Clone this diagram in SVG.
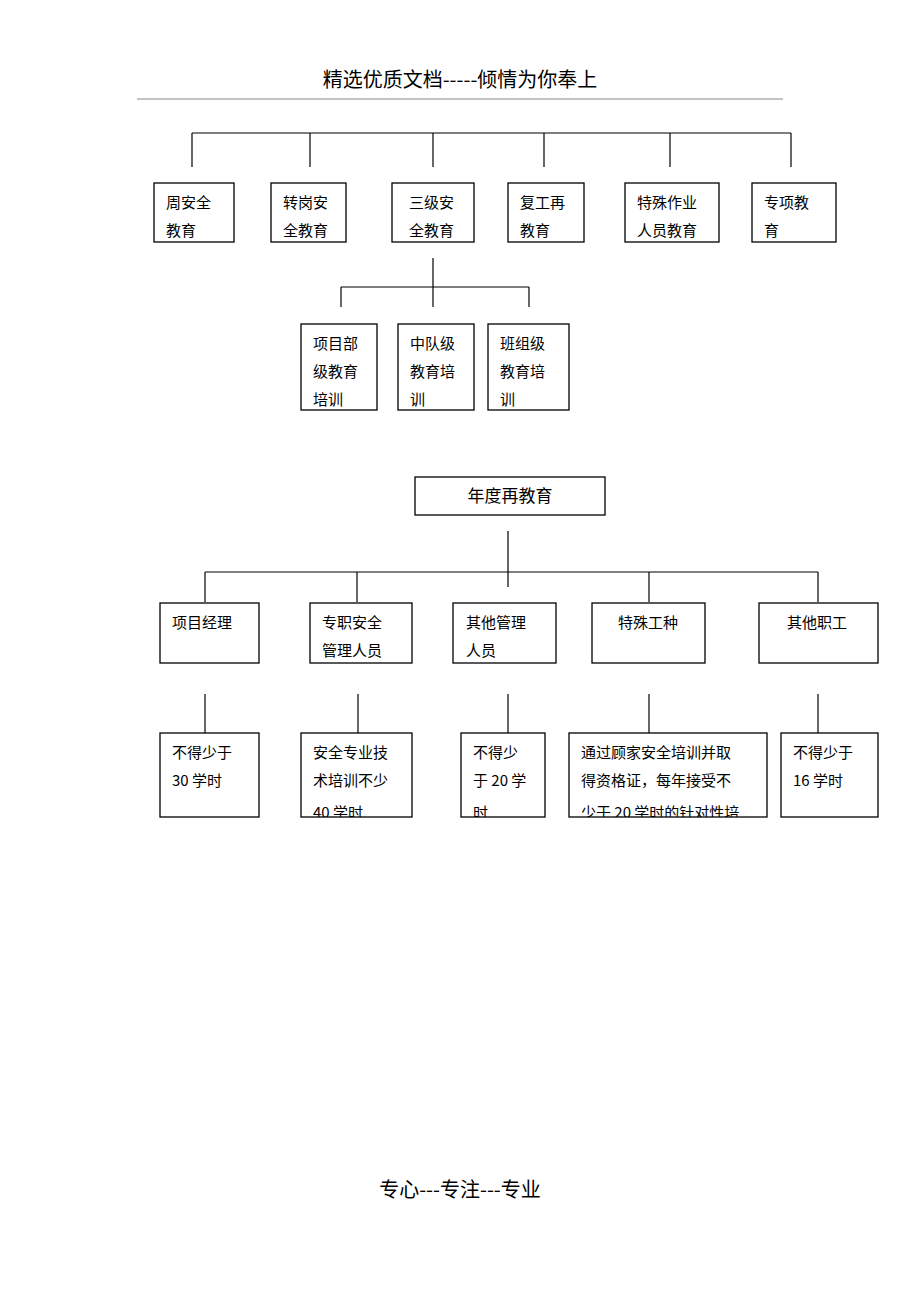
<svg xmlns="http://www.w3.org/2000/svg" width="920" height="1302" viewBox="0 0 920 1302">
<style>
text{font-family:"Noto Sans CJK SC","Liberation Serif",serif;font-size:15px;fill:#000}
.b{fill:#fff;stroke:#000;stroke-width:1.3}
.c line{stroke:#000;stroke-width:1.2}
.h{font-size:20px}
</style>
<defs>
<clipPath id="k1"><rect x="160" y="733" width="99" height="84"/></clipPath>
<clipPath id="k2"><rect x="301" y="733" width="111" height="84"/></clipPath>
<clipPath id="k3"><rect x="461" y="733" width="84" height="84"/></clipPath>
<clipPath id="k4"><rect x="569" y="733" width="198" height="84"/></clipPath>
<clipPath id="k5"><rect x="781" y="733" width="97" height="84"/></clipPath>
</defs>
<rect width="920" height="1302" fill="#fff"/>
<text class="h" x="460" y="87" text-anchor="middle">精选优质文档-----倾情为你奉上</text>
<line x1="137" y1="99" x2="783" y2="99" stroke="#888" stroke-width="1"/>
<text class="h" x="460" y="1197" text-anchor="middle">专心---专注---专业</text>
<g class="c" id="connectors">
<line x1="192" y1="133" x2="791" y2="133"/>
<line x1="192" y1="133" x2="192" y2="167"/><line x1="310" y1="133" x2="310" y2="167"/><line x1="433" y1="133" x2="433" y2="167"/><line x1="544" y1="133" x2="544" y2="167"/><line x1="670" y1="133" x2="670" y2="167"/><line x1="791" y1="133" x2="791" y2="167"/>
<line x1="433" y1="258" x2="433" y2="307"/><line x1="341" y1="287" x2="529" y2="287"/>
<line x1="341" y1="287" x2="341" y2="307"/><line x1="529" y1="287" x2="529" y2="307"/>
<line x1="508" y1="531" x2="508" y2="587"/><line x1="205" y1="572" x2="818" y2="572"/>
<line x1="205" y1="572" x2="205" y2="602"/><line x1="357" y1="572" x2="357" y2="602"/><line x1="649" y1="572" x2="649" y2="602"/><line x1="818" y1="572" x2="818" y2="602"/>
<line x1="205" y1="694" x2="205" y2="733"/><line x1="358" y1="694" x2="358" y2="733"/><line x1="508" y1="694" x2="508" y2="733"/><line x1="649" y1="694" x2="649" y2="733"/><line x1="818" y1="694" x2="818" y2="733"/>
</g>
<g id="n1"><rect class="b" x="154" y="183" width="80" height="59"/><text x="166" y="208">周安全</text><text x="166" y="236">教育</text></g>
<g id="n2"><rect class="b" x="271" y="183" width="75" height="59"/><text x="283" y="208">转岗安</text><text x="283" y="236">全教育</text></g>
<g id="n3"><rect class="b" x="392" y="183" width="82" height="59"/><text x="409" y="208">三级安</text><text x="409" y="236">全教育</text></g>
<g id="n4"><rect class="b" x="508" y="183" width="76" height="59"/><text x="520" y="208">复工再</text><text x="520" y="236">教育</text></g>
<g id="n5"><rect class="b" x="625" y="183" width="94" height="59"/><text x="637" y="208">特殊作业</text><text x="637" y="236">人员教育</text></g>
<g id="n6"><rect class="b" x="752" y="183" width="84" height="59"/><text x="764" y="208">专项教</text><text x="764" y="236">育</text></g>
<g id="n7"><rect class="b" x="301" y="324" width="76" height="86"/><text x="313" y="349">项目部</text><text x="313" y="377">级教育</text><text x="313" y="405">培训</text></g>
<g id="n8"><rect class="b" x="398" y="324" width="76" height="86"/><text x="410" y="349">中队级</text><text x="410" y="377">教育培</text><text x="410" y="405">训</text></g>
<g id="n9"><rect class="b" x="488" y="324" width="81" height="86"/><text x="500" y="349">班组级</text><text x="500" y="377">教育培</text><text x="500" y="405">训</text></g>
<g id="n10"><rect class="b" x="415" y="477" width="190" height="38"/><text x="510" y="502" text-anchor="middle" style="font-size:17px">年度再教育</text></g>
<g id="n11"><rect class="b" x="160" y="603" width="99" height="60"/><text x="172" y="628">项目经理</text></g>
<g id="n12"><rect class="b" x="310" y="603" width="102" height="60"/><text x="322" y="628">专职安全</text><text x="322" y="656">管理人员</text></g>
<g id="n13"><rect class="b" x="453" y="603" width="103" height="60"/><text x="466" y="628">其他管理</text><text x="466" y="656">人员</text></g>
<g id="n14"><rect class="b" x="592" y="603" width="113" height="60"/><text x="618" y="628">特殊工种</text></g>
<g id="n15"><rect class="b" x="759" y="603" width="119" height="60"/><text x="787" y="628">其他职工</text></g>
<g id="n16"><rect class="b" x="160" y="733" width="99" height="84"/><g clip-path="url(#k1)"><text x="172" y="758">不得少于</text><text x="172" y="786">30 学时</text></g></g>
<g id="n17"><rect class="b" x="301" y="733" width="111" height="84"/><g clip-path="url(#k2)"><text x="313" y="758">安全专业技</text><text x="313" y="786">术培训不少</text><text x="313" y="818">40 学时</text></g></g>
<g id="n18"><rect class="b" x="461" y="733" width="84" height="84"/><g clip-path="url(#k3)"><text x="473" y="758">不得少</text><text x="473" y="786">于 20 学</text><text x="473" y="818">时</text></g></g>
<g id="n19"><rect class="b" x="569" y="733" width="198" height="84"/><g clip-path="url(#k4)"><text x="581" y="758">通过顾家安全培训并取</text><text x="581" y="786">得资格证，每年接受不</text><text x="581" y="818">少于 20 学时的针对性培</text></g></g>
<g id="n20"><rect class="b" x="781" y="733" width="97" height="84"/><g clip-path="url(#k5)"><text x="793" y="758">不得少于</text><text x="793" y="786">16 学时</text></g></g>
</svg>
